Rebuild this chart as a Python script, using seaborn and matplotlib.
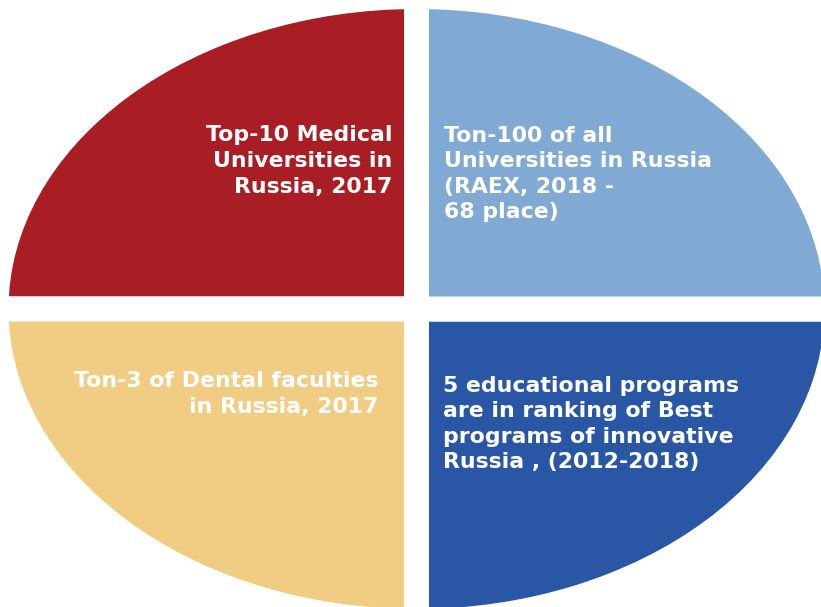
import matplotlib
matplotlib.use("Agg")
import matplotlib.pyplot as plt
import seaborn as sns

# ---- data ----
categories = [
    "Top-10 Medical\nUniversities in\nRussia, 2017",
    "Ton-3 of Dental faculties\nin Russia, 2017",
    "5 educational programs\nare in ranking of Best\nprograms of innovative\nRussia , (2012-2018)",
    "Ton-100 of all\nUniversities in Russia\n(RAEX, 2018 -\n68 place)",
]
values = [25, 25, 25, 25]
colors = ["#A91E24", "#F0CD82", "#2A57A5", "#80AAD4"]

sns.set_theme(style="white")
plt.rcParams["font.family"] = ["DejaVu Sans"]

W, H = 821, 607
fig = plt.figure(figsize=(W / 100, H / 100), dpi=100)
ax = fig.add_axes([0, 0, 1, 1])

palette = sns.color_palette(colors)
ax.pie(values, colors=palette, startangle=90, counterclock=True,
       radius=1.0,
       wedgeprops=dict(edgecolor="white", linewidth=18, joinstyle="miter"))

# stretch the pie into an ellipse
cx, cy = 416.5, 309.0        # centre in pixels (from top)
rx, ry = 420.5, 312.5        # pixel radius of the unit wedge
ax.set_aspect("auto")
ax.set_xlim(-cx / rx, (W - cx) / rx)
ax.set_ylim(-(H - cy) / ry, cy / ry)
ax.axis("off")

def px(x, y):
    return x / W, 1 - y / H

txt = dict(color="white", fontsize=15.8, fontweight="bold", linespacing=1.35,
           va="center")
fig.text(*px(392, 161), categories[0], ha="right", multialignment="right", **txt)
fig.text(*px(444, 174), categories[3], ha="left", multialignment="left", **txt)
fig.text(*px(378, 394), categories[1], ha="right", multialignment="right", **txt)
fig.text(*px(443, 424), categories[2], ha="left", multialignment="left", **txt)

fig.savefig("out.png", dpi=100, facecolor="white")
